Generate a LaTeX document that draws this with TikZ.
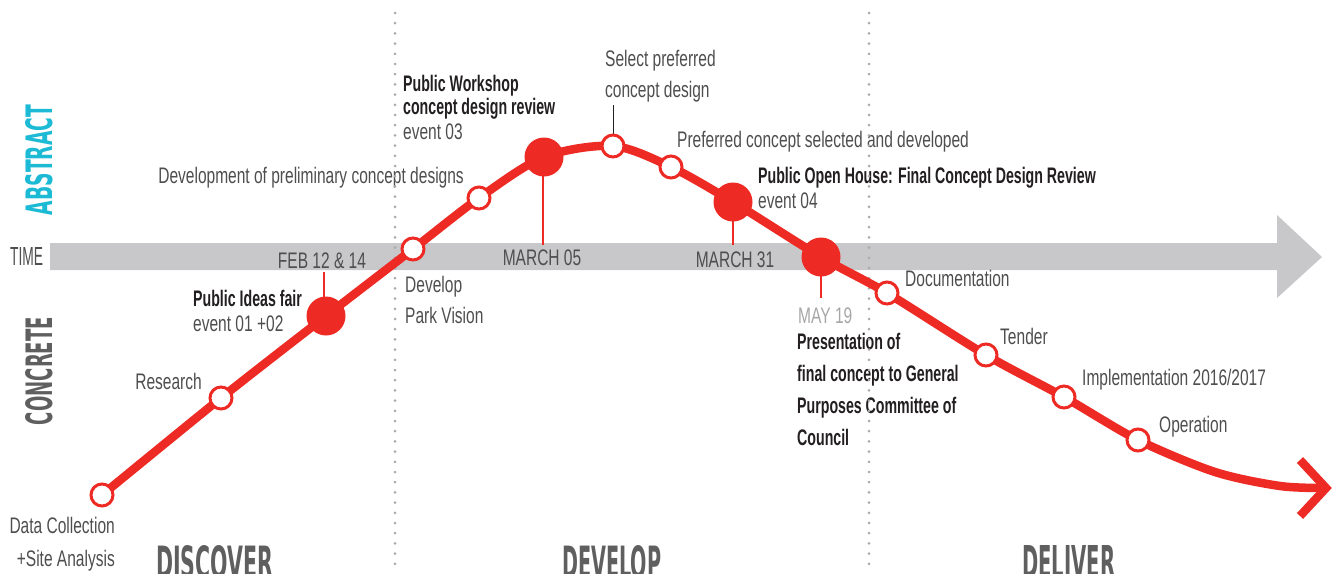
\documentclass[tikz,border=0pt]{standalone}
\usepackage{fontspec}
\usepackage{graphicx}
\newfontfamily\regf[FakeStretch=0.69]{Liberation Sans}
\newfontfamily\bldf[FakeStretch=0.63]{Liberation Sans}
\newfontfamily\heavyf{DejaVu Sans Condensed}
\definecolor{rd}{HTML}{EE2A24}
\definecolor{txt}{HTML}{4E4E4E}
\definecolor{btxt}{HTML}{231F20}
\definecolor{bandc}{HTML}{C8C8CA}
\definecolor{dotc}{HTML}{ABABAB}
\definecolor{bigc}{HTML}{5F5F5F}
\definecolor{cyanc}{HTML}{1CBAD5}
\definecolor{lightc}{HTML}{A6A6A6}
\tikzset{
  lbl/.style={anchor=base west,inner sep=0pt,text=txt,font=\regf\fontsize{22.5}{27}\selectfont},
  lblr/.style={lbl,anchor=base east},
  lblc/.style={lbl,anchor=base},
  blbl/.style={anchor=base west,inner sep=0pt,text=btxt,font=\bldf\bfseries\fontsize{22.5}{27}\selectfont},
  openc/.style={circle,draw=rd,fill=white,line width=3pt,minimum size=22pt,inner sep=0pt},
  fullc/.style={circle,fill=rd,minimum size=39pt,inner sep=0pt},
  redline/.style={draw=rd,line width=8.5pt},
  stem/.style={draw=rd,line width=2pt},
  dotline/.style={draw=dotc,line width=3pt,line cap=round,dash pattern=on 0pt off 10.2pt},
  big/.style={anchor=north west,inner sep=0pt,text=bigc}
}
\begin{document}
\begin{tikzpicture}[x=1pt,y=-1pt]
\useasboundingbox (0,0) rectangle (1336,573);
% time band
\fill[bandc] (50,243) -- (1277,243) -- (1277,215) -- (1322,257) -- (1277,298) -- (1277,270) -- (50,270) -- cycle;
\node[anchor=base west,inner sep=0pt,text=txt] (time) at (10,265) {\resizebox{33pt}{18pt}{\regf TIME}};
% side labels
\node[inner sep=0pt,rotate=90,text=cyanc] (abstract) at (39.5,160) {\resizebox{110pt}{27pt}{\heavyf\bfseries ABSTRACT}};
\node[inner sep=0pt,rotate=90,text=bigc] (concrete) at (39.5,371) {\resizebox{108pt}{27pt}{\heavyf\bfseries CONCRETE}};
% bottom phase words
\node[big] (discover) at (156,545) {\resizebox{117pt}{33pt}{\heavyf\bfseries DISCOVER}};
\node[big] (develop) at (562,545) {\resizebox{99pt}{33pt}{\heavyf\bfseries DEVELOP}};
\node[big] (deliver) at (1022,545) {\resizebox{93pt}{33pt}{\heavyf\bfseries DELIVER}};
% texts
\node[lblr] (t1a) at (115,533) {Data Collection};
\node[lblr] (t1b) at (115,566) {+Site Analysis};
\node[lblr] (t2) at (202,389) {Research};
\node[blbl] (tAa) at (193,306) {Public Ideas fair};
\node[lbl] (tAb) at (193,331) {event 01 +02};
\node[lblc] (dA) at (322,268) {FEB 12 \& 14};
\node[lbl] (t3a) at (405,292) {Develop};
\node[lbl] (t3b) at (405,323) {Park Vision};
\node[lblr] (t4) at (464,183) {Development of preliminary concept designs};
\node[blbl] (tBa) at (403,91) {Public Workshop};
\node[blbl] (tBb) at (403,114) {concept design review};
\node[lbl] (tBc) at (403,139) {event 03};
\node[lblc] (dB) at (542,265) {MARCH 05};
\node[lbl] (t5a) at (605,66) {Select preferred};
\node[lbl] (t5b) at (605,97) {concept design};
\node[lbl] (t6) at (677,147) {Preferred concept selected and developed};
\node[blbl] (tCa) at (758,183) {Public Open House: Final Concept Design Review};
\node[lbl] (tCb) at (758,208) {event 04};
\node[lblc] (dC) at (735,267) {MARCH 31};
\node[lbl,text=lightc] (dD) at (798,323) {MAY 19};
\node[blbl] (tDa) at (797,349) {Presentation of};
\node[blbl] (tDb) at (797,381) {final concept to General};
\node[blbl] (tDc) at (797,413) {Purposes Committee of};
\node[blbl] (tDd) at (797,445) {Council};
\node[lbl] (t7) at (905,286) {Documentation};
\node[lbl] (t8) at (1000,344) {Tender};
\node[lbl] (t9) at (1082,385) {Implementation 2016/2017};
\node[lbl] (t10) at (1159,432) {Operation};
% dotted phase separators
\coordinate (d1t) at (395,13); \coordinate (d1b) at (395,573);
\coordinate (d2t) at (869,13); \coordinate (d2b) at (869,573);
\draw[dotline] (d1t) -- (d1b);
\draw[dotline] (d2t) -- (d2b);
% curve points
\coordinate (p1) at (102,495);
\coordinate (p2) at (221,398);
\coordinate (pA) at (326,316);
\coordinate (p3) at (413,249);
\coordinate (p4) at (479,198);
\coordinate (pB) at (544,157);
\coordinate (p5) at (613,146);
\coordinate (p6) at (671,167);
\coordinate (pC) at (733,202);
\coordinate (pD) at (821,257);
\coordinate (p7) at (887,293);
\coordinate (p8) at (986,355);
\coordinate (p9) at (1064,397);
\coordinate (p10) at (1138,440);
\coordinate (q1) at (1215,472);
\coordinate (q2) at (1280,486);
\coordinate (q3) at (1326,488);
\draw[redline] plot[smooth,tension=0.5] coordinates {(p1) (p2) (pA) (p3) (p4) (pB) (p5) (p6) (pC) (pD) (p7) (p8) (p9) (p10) (q1) (q2) (q3)};
\coordinate (aw1) at (1300,460);
\coordinate (aw2) at (1300,516);
\draw[draw=rd,line width=8.5pt,line join=miter] (aw1) -- (q3) -- (aw2);
% stems
\coordinate (sA) at (324,272);
\coordinate (sB) at (543,245);
\coordinate (sC) at (733,245);
\coordinate (sD) at (821,298);
\coordinate (s5) at (613,105);
\draw[stem] (pA -| sA) -- (sA);
\draw[stem] (pB -| sB) -- (sB);
\draw[stem] (pC) -- (sC);
\draw[stem] (pD) -- (sD);
\draw[draw=btxt,line width=1pt] (p5) -- (s5);
% markers
\node[openc] (n1) at (p1) {};
\node[openc] (n2) at (p2) {};
\node[fullc] (nA) at (pA) {};
\node[openc] (n3) at (p3) {};
\node[openc] (n4) at (p4) {};
\node[fullc] (nB) at (pB) {};
\node[openc] (n5) at (p5) {};
\node[openc] (n6) at (p6) {};
\node[fullc] (nC) at (pC) {};
\node[fullc] (nD) at (pD) {};
\node[openc] (n7) at (p7) {};
\node[openc] (n8) at (p8) {};
\node[openc] (n9) at (p9) {};
\node[openc] (n10) at (p10) {};
\end{tikzpicture}
\end{document}
